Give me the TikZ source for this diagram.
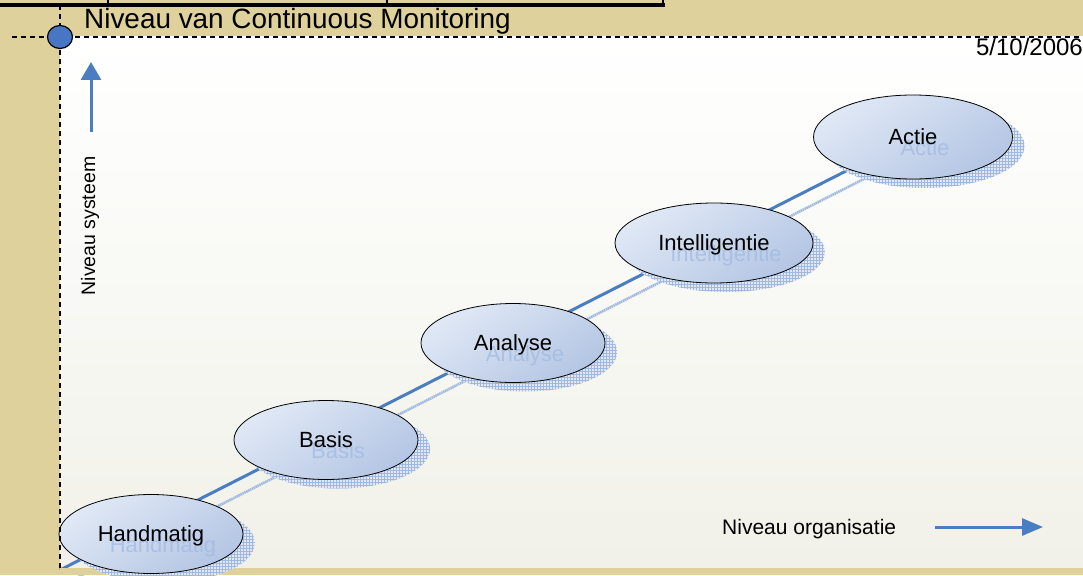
\documentclass[tikz,border=0pt]{standalone}
\usepackage{fontspec}
\setmainfont{Liberation Sans}
\usetikzlibrary{shapes.geometric,arrows.meta,patterns,calc}
\definecolor{tanbg}{RGB}{222,209,156}
\definecolor{lineblue}{RGB}{74,126,193}
\definecolor{dotblue}{RGB}{70,118,196}
\definecolor{bubtop}{RGB}{224,232,245}
\definecolor{bubbot}{RGB}{180,198,228}
\definecolor{ghostblue}{RGB}{160,186,226}
\definecolor{shadefill}{RGB}{226,233,245}
\definecolor{shadeline}{RGB}{160,184,224}
\definecolor{panelbot}{RGB}{241,241,233}
\begin{document}
\begin{tikzpicture}[x=1pt,y=-1pt,
  bub/.style={ellipse, draw=black, line width=0.8pt, top color=bubtop, bottom color=bubbot, shading angle=35, inner sep=0pt},
  shad/.style={ellipse, inner sep=0pt, preaction={fill=shadefill}, pattern=grid, pattern color=shadeline},
  lbl/.style={font=\fontsize{22}{26}\selectfont, text height=15.8pt, text depth=0pt, inner sep=0pt},
  ghost/.style={lbl, text=ghostblue, text opacity=0.75},
  axlbl/.style={font=\fontsize{21}{25}\selectfont, inner sep=0pt},
  dashline/.style={black, line width=1.4pt, dash pattern=on 5pt off 4pt},
  bluearrow/.style={lineblue, line width=3pt}
]
\useasboundingbox (0,0) rectangle (1083,575);
% background
\fill[tanbg] (0,0) rectangle (1083,575);
\shade[top color=white, bottom color=panelbot] (60,37) rectangle (1083,568);
% diagonal line and its shadow
\coordinate (o) at (60,570);
\coordinate (os) at (72,580);
\coordinate (c5) at (913,137);
\coordinate (c5s) at (925,148);
\draw[shadeline, line width=2.6pt, dash pattern=on 1.5pt off 0.6pt] (os) -- (c5s);
\draw[lineblue, line width=3pt] (o) -- (c5);
\fill[tanbg] (60,568) rectangle (1083,575);
% ellipses
\foreach \n/\x/\y/\w/\h/\t in {e1/151/534/184/79/Handmatig, e2/326/440/184/79/Basis, e3/513/343/184/79/Analyse, e4/714/243/198/80/Intelligentie, e5/913/137/199/84/Actie}{
  \node[shad, minimum width=\w pt, minimum height=\h pt] (\n-s) at (\x+12,\y+9) {};
  \node[bub, minimum width=\w pt, minimum height=\h pt] (\n) at (\x,\y) {};
  \node[ghost] (\n-g) at ($(\n.center)+(12,11)$) {\t};
  \node[lbl] (\n-t) at (\n.center) {\t};
}
% axes
\coordinate (hl) at (12,37);
\coordinate (hr) at (1083,37);
\coordinate (vt) at (60,5);
\coordinate (vb) at (60,568);
\draw[dashline] (hl) -- (hr);
\draw[dashline] (vt) -- (vb);
\node[ellipse, draw=black, line width=1.2pt, fill=dotblue, minimum width=25pt, minimum height=23pt, inner sep=0pt] (orig) at (60,37) {};
% top black rule
\coordinate (tl) at (0,5);
\coordinate (tr) at (665,5);
\draw[black, line width=4pt] (tl) -- (tr);
\foreach \k/\xx in {t1/108, t2/387, t3/663}{
  \coordinate (\k a) at (\xx,0);
  \coordinate (\k b) at (\xx,5);
  \draw[black, line width=1.6pt] (\k a) -- (\k b);
}
% texts
\node[font=\fontsize{27.9}{32}\selectfont, anchor=base west, inner sep=0pt] (title) at (84,29) {Niveau van Continuous Monitoring};
\node[font=\fontsize{24}{28}\selectfont, anchor=base east, inner sep=0pt] (date) at (1083,56) {5/10/2006};
\node[axlbl, font=\fontsize{19.5}{24}\selectfont, rotate=90, anchor=base] (ysys) at (95,226) {Niveau systeem};
\node[axlbl, anchor=base west] (xorg) at (722,534) {Niveau organisatie};
% arrows
\coordinate (vs) at (91,132);
\coordinate (ve) at (91,62);
\draw[bluearrow, -{Triangle[length=18pt,width=20pt]}] (vs) -- (ve);
\coordinate (hs) at (935,527);
\coordinate (he) at (1043,527);
\draw[bluearrow, -{Triangle[length=21pt,width=17pt]}] (hs) -- (he);
\end{tikzpicture}
\end{document}
